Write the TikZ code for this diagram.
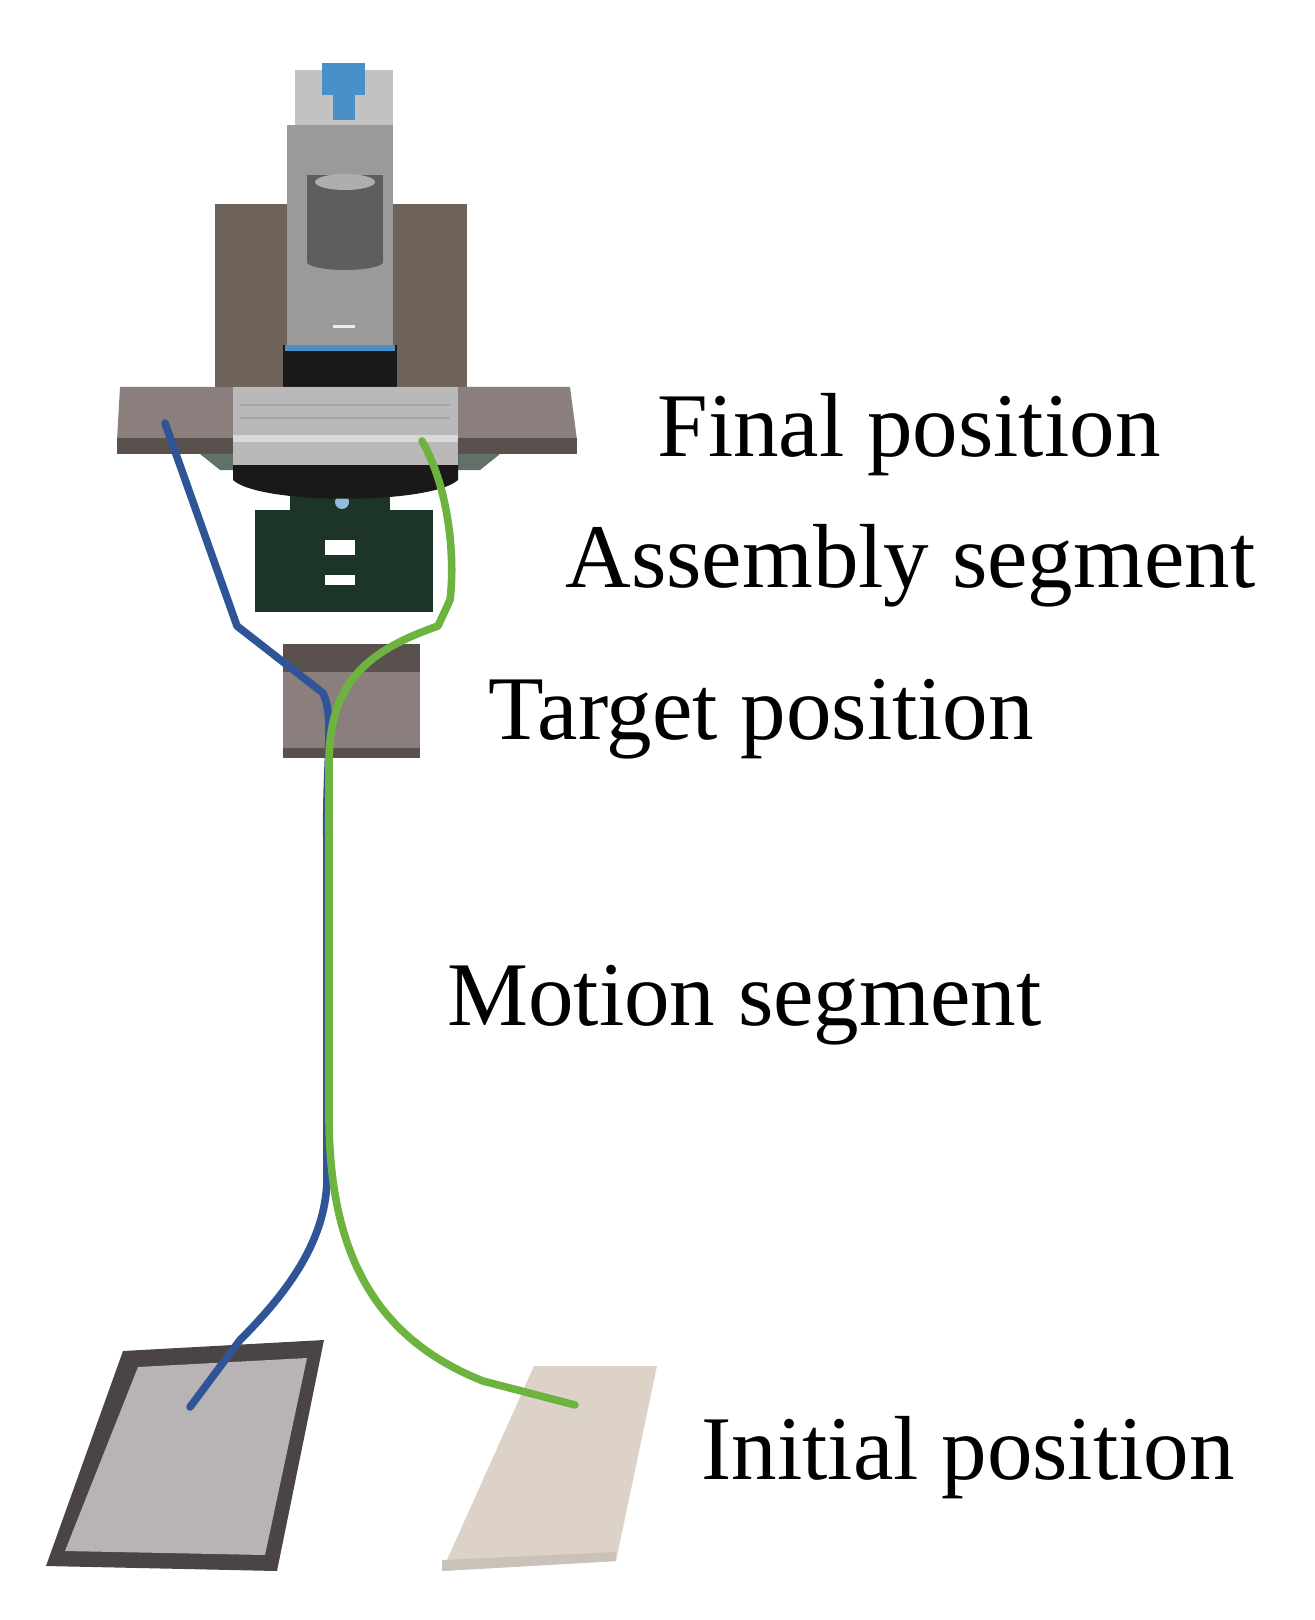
\documentclass[tikz,border=0pt]{standalone}
\usepackage{fontspec}
\setmainfont{Liberation Serif}
\begin{document}
\begin{tikzpicture}[x=0.5pt,y=-0.5pt,
  lbl/.style={anchor=base west,inner sep=0pt,font=\fontsize{45.5}{50}\selectfont},
  path/.style={line width=3.8pt,line join=round,line cap=round}]
\useasboundingbox (0,0) rectangle (1314,1620);
\definecolor{brownp}{HTML}{6E625A}
\definecolor{tabl}{HTML}{8A7F7C}
\definecolor{tabd}{HTML}{5A504D}
\definecolor{colg}{HTML}{9A9A9A}
\definecolor{cyl}{HTML}{5E5E5E}
\definecolor{bluet}{HTML}{4A90C8}
\definecolor{grn}{HTML}{1C3526}
\definecolor{bluel}{HTML}{2F5597}
\definecolor{greenl}{HTML}{6DB33F}
\definecolor{tray}{HTML}{B8B3B5}
\definecolor{trayd}{HTML}{4A4444}
\definecolor{beige}{HTML}{DDD2C8}
% back panel
\fill[brownp] (215,204) rectangle (467,389);
% column
\fill[colg!60] (295,70) rectangle (393,125);
\fill[colg] (287,125) rectangle (393,350);
\fill[cyl] (307,175) rectangle (383,262);
\fill[cyl] (345,262) ellipse (38 and 8);
\fill[colg!80] (345,182) ellipse (30 and 8);
\fill[bluet] (322,63) rectangle (365,95);
\fill[bluet] (333,95) rectangle (355,120);
\fill[white!85!gray] (333,325) rectangle (355,328);
% black block
\fill[black!90] (283,345) rectangle (397,388);
\fill[bluet] (285,345) rectangle (395,351);
% green base
\fill[grn] (290,492) rectangle (390,515);
\fill[grn] (255,510) rectangle (433,612);
\fill[white] (325,540) rectangle (355,555);
\fill[white] (325,575) rectangle (355,585);
\fill[bluet!60] (342,502) circle (7);
% table
\fill[tabl] (120,387) -- (570,387) -- (577,440) -- (117,440) -- cycle;
\fill[tabd] (117,438) rectangle (577,454);
\fill[grn!70] (200,454) -- (500,454) -- (480,470) -- (220,470) -- cycle;
% carriage
\fill[black!90] (233,450) -- (458,450) -- (458,480) .. controls (430,505) and (260,505) .. (233,480) -- cycle;
\fill[gray!55] (233,387) rectangle (458,465);
\fill[gray!30] (233,435) rectangle (458,442);
\draw[gray!70,line width=1pt] (240,405) -- (450,405) (240,418) -- (450,418);
% target block
\fill[tabl] (283,644) rectangle (420,758);
\fill[tabd] (283,644) rectangle (420,672);
\fill[tabd] (283,748) rectangle (420,758);
% trays
\fill[trayd] (123,1351) -- (324,1340) -- (277,1571) -- (46,1566) -- cycle;
\fill[tray] (138,1367) -- (307,1358) -- (265,1555) -- (65,1551) -- cycle;
\fill[beige] (534,1366) -- (657,1366) -- (616,1561) -- (442,1571) -- cycle;
\fill[beige!80!gray] (442,1560) -- (616,1552) -- (616,1561) -- (442,1571) -- cycle;
% paths
\coordinate (bs) at (165,423);
\coordinate (bk) at (237,626);
\coordinate (bj) at (323,693);
\coordinate (be) at (190,1407);
\draw[path,bluel] (bs) -- (bk) -- (bj) .. controls (335,720) and (325,760) .. (327,850)
  -- (327,1181) .. controls (325,1240) and (290,1290) .. (240,1340) -- (be);
\coordinate (gs) at (422,441);
\coordinate (gk) at (438,626);
\coordinate (ge) at (575,1405);
\draw[path,greenl] (gs) .. controls (450,490) and (455,560) .. (450,600) -- (gk)
  .. controls (370,650) and (330,680) .. (329,760) -- (329,1120)
  .. controls (330,1260) and (380,1340) .. (483,1381) -- (ge);
% labels
\node[lbl] (t1) at (657,457) {Final position};
\node[lbl] (t2) at (565,587) {Assembly segment};
\node[lbl] (t3) at (488,739) {Target position};
\node[lbl] (t4) at (447,1025) {Motion segment};
\node[lbl] (t5) at (701,1479) {Initial position};
\end{tikzpicture}
\end{document}
